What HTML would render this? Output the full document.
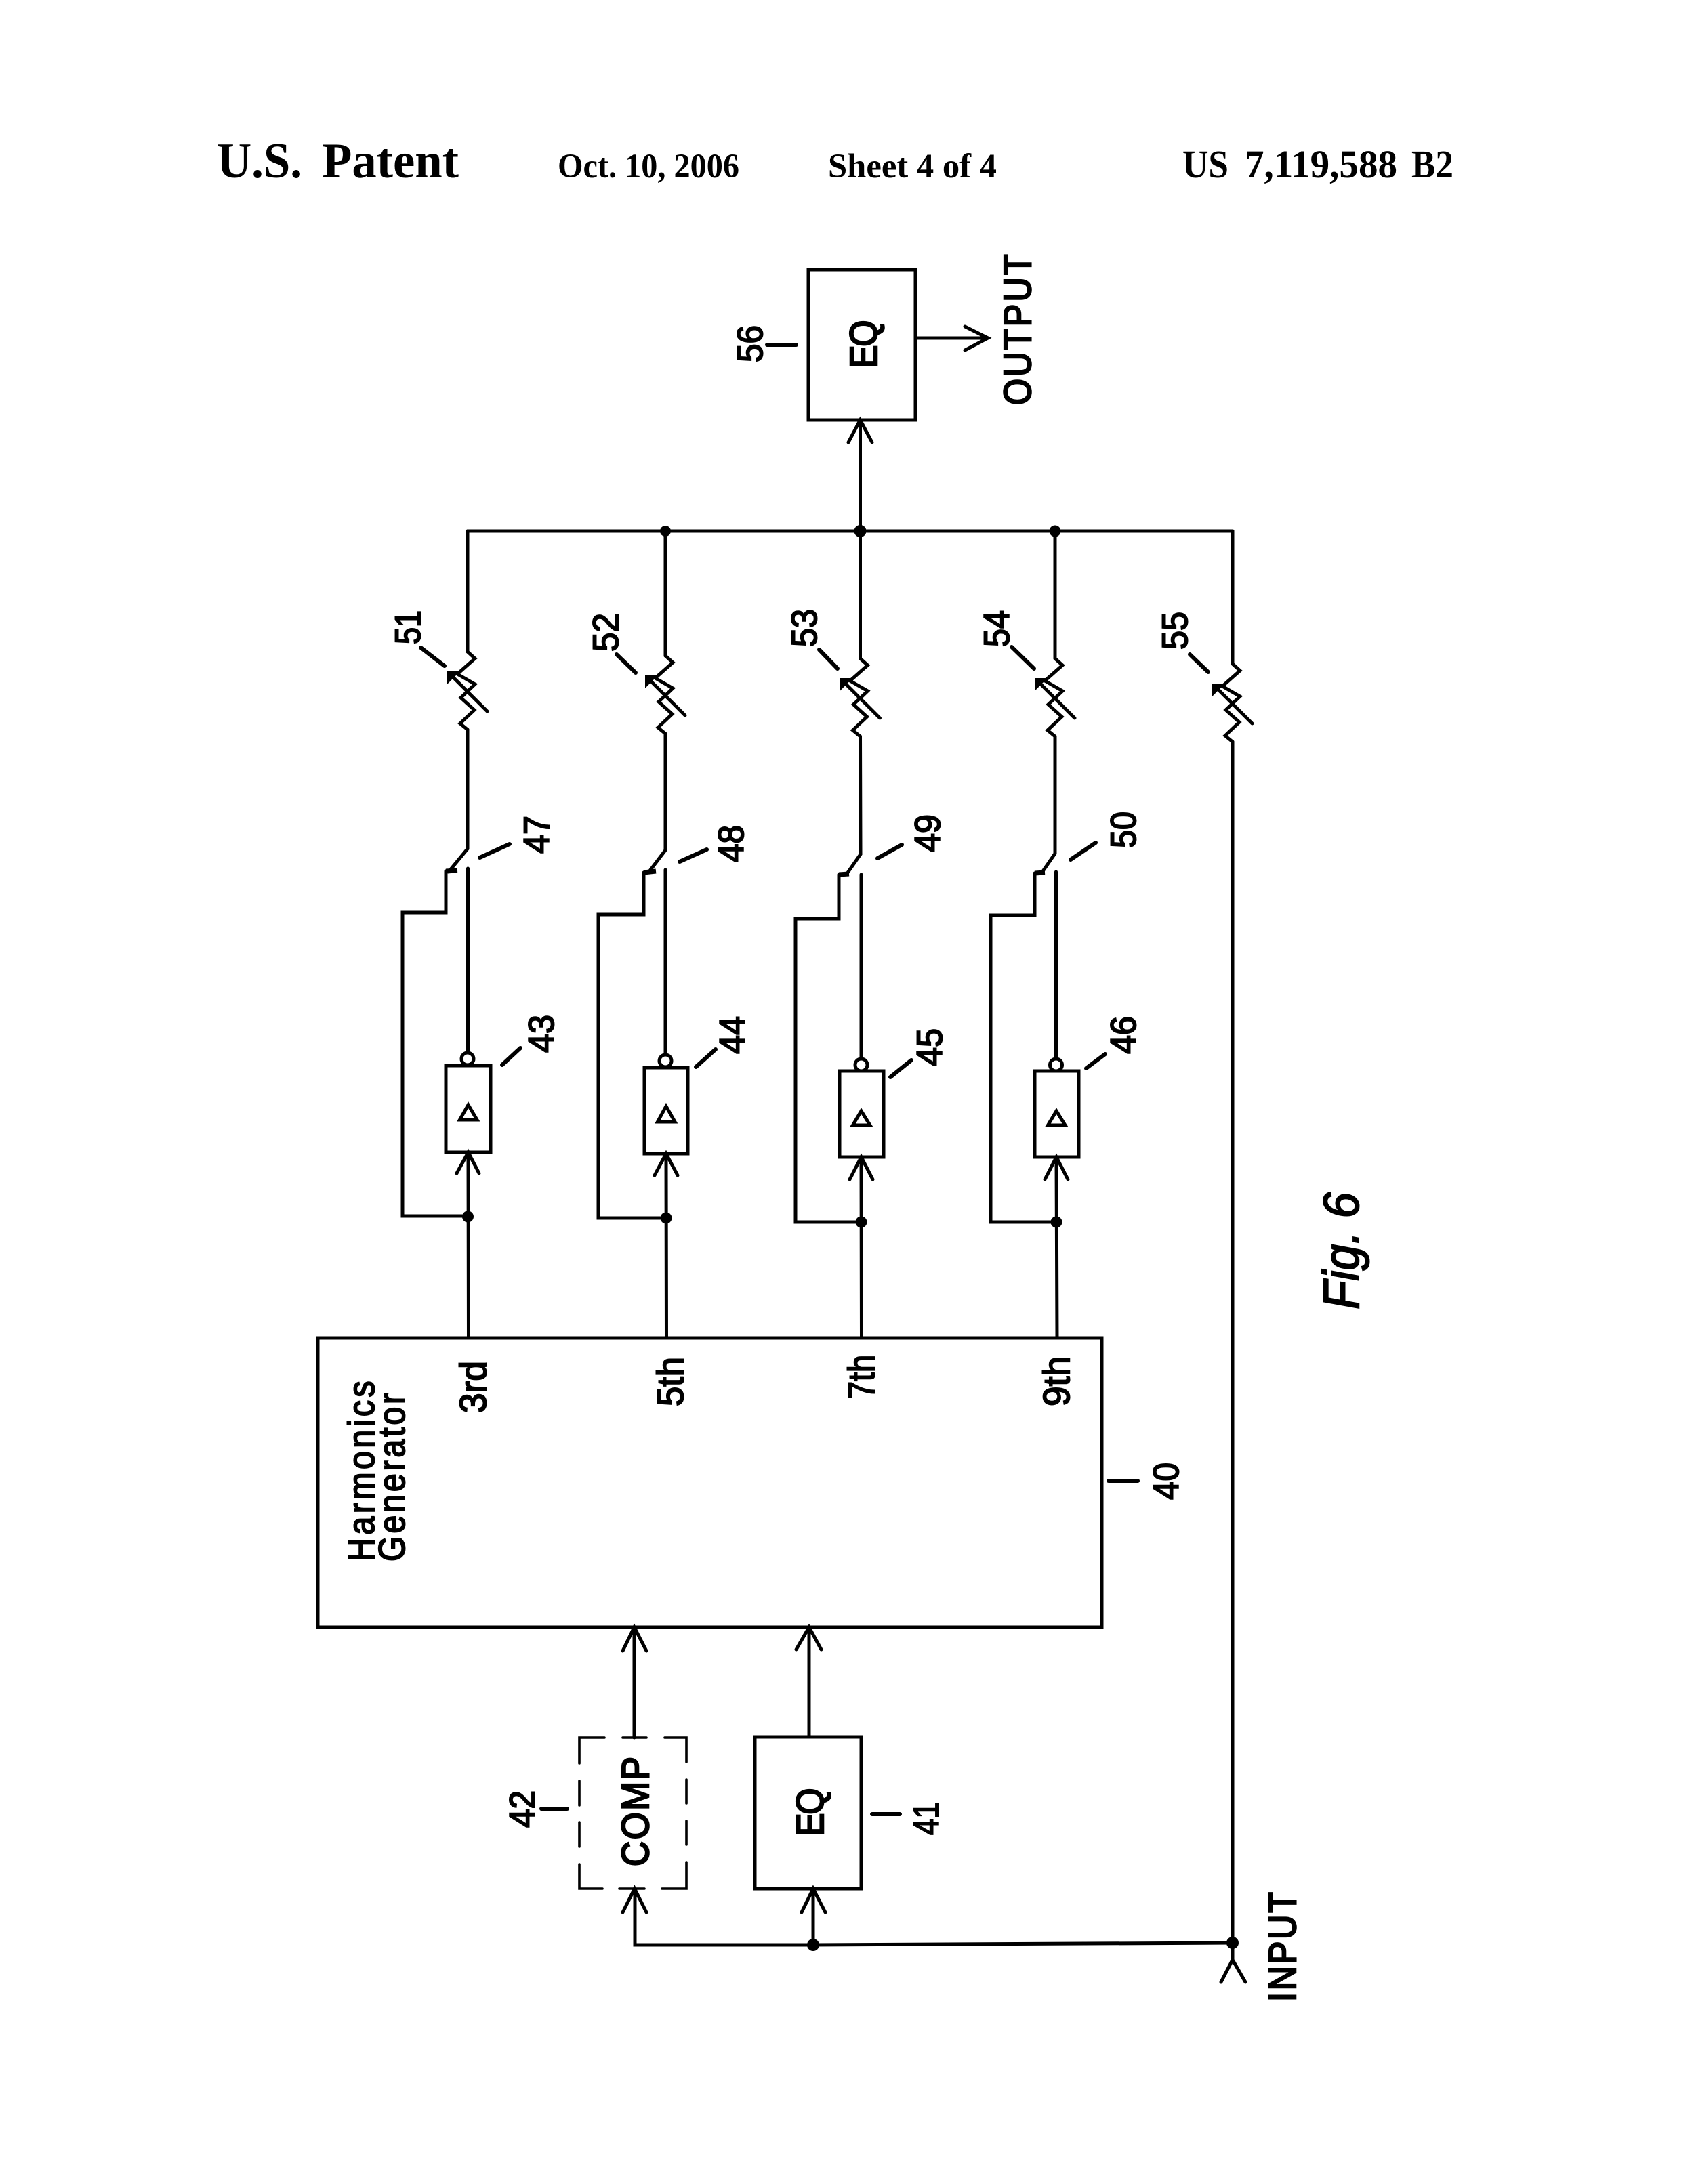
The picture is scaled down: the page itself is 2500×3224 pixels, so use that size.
<!DOCTYPE html>
<html><head><meta charset="utf-8"><style>
html,body{margin:0;padding:0;background:#fff}
svg{display:block}
.l{fill:none;stroke:#000;stroke-width:5;stroke-linejoin:miter;stroke-linecap:round}
.t{stroke:#000;stroke-width:6;fill:none;stroke-linecap:round}
.s{font-family:"Liberation Sans",sans-serif;fill:#000;stroke:#000;stroke-width:2}
.h{font-family:"Liberation Serif",serif;font-weight:bold;fill:#000}
</style></head><body>
<svg xmlns="http://www.w3.org/2000/svg" width="2500" height="3224" viewBox="0 0 2500 3224">
<rect width="2500" height="3224" fill="#fff"/>
<defs>
<g id="r"><polyline class="l" points="0,0 11,10 -15,33 11,48 -10,68 10,86 -11,106 0,115"/><line class="l" x1="29" y1="88" x2="-20" y2="39"/><polygon points="-30,29 -11,29 -30,48" fill="#000"/></g>
</defs>

<!-- header -->
<text class="h" x="320" y="262" font-size="74" textLength="126" lengthAdjust="spacingAndGlyphs">U.S.</text>
<text class="h" x="475" y="262" font-size="74" textLength="202" lengthAdjust="spacingAndGlyphs">Patent</text>
<text class="h" x="823" y="262" font-size="51" textLength="268" lengthAdjust="spacingAndGlyphs">Oct. 10, 2006</text>
<text class="h" x="1222" y="262" font-size="51" textLength="249" lengthAdjust="spacingAndGlyphs">Sheet 4 of 4</text>
<text class="h" x="1745" y="262" font-size="58" textLength="68" lengthAdjust="spacingAndGlyphs">US</text>
<text class="h" x="1837" y="262" font-size="58" textLength="225" lengthAdjust="spacingAndGlyphs">7,119,588</text>
<text class="h" x="2083" y="262" font-size="58" textLength="62" lengthAdjust="spacingAndGlyphs">B2</text>

<!-- output EQ -->
<rect class="l" x="1193" y="398" width="158" height="222"/>
<line class="l" x1="1269.5" y1="784" x2="1269.5" y2="622"/>
<polyline class="l" points="1252,653 1269.5,620 1287,653"/>
<line class="l" x1="1351" y1="499" x2="1456" y2="499"/>
<polyline class="l" points="1424,482 1458,499 1424,517"/>
<line class="t" x1="1132" y1="509" x2="1175" y2="509"/>

<!-- bus -->
<line class="l" x1="690" y1="784" x2="1819" y2="784"/>
<circle cx="982" cy="784" r="8" fill="#000"/>
<circle cx="1269.5" cy="784" r="9" fill="#000"/>
<circle cx="1557" cy="784" r="8.5" fill="#000"/>

<!-- branch lines top -->
<line class="l" x1="690" y1="784" x2="690" y2="962"/>
<line class="l" x1="982" y1="784" x2="982" y2="968"/>
<line class="l" x1="1269.5" y1="784" x2="1269.5" y2="972"/>
<line class="l" x1="1557" y1="784" x2="1557" y2="972"/>
<line class="l" x1="1819" y1="784" x2="1819" y2="980"/>

<use href="#r" x="690" y="962"/>
<use href="#r" x="982" y="968"/>
<use href="#r" x="1269.5" y="972"/>
<use href="#r" x="1557" y="972"/>
<use href="#r" x="1819" y="980"/>

<!-- switches & lines -->
<polyline class="l" points="690,1077 690,1253 662,1287"/>
<polyline class="l" points="982,1083 982,1255 957,1288"/>
<polyline class="l" points="1269.5,1087 1270,1261 1249,1291"/>
<polyline class="l" points="1557,1087 1557,1260 1537,1289"/>
<line class="l" x1="1819" y1="1095" x2="1819" y2="2893"/>

<line x1="658" y1="1286" x2="675" y2="1285" stroke="#000" stroke-width="7"/>
<line x1="950" y1="1288" x2="968" y2="1286" stroke="#000" stroke-width="7"/>
<line x1="1238" y1="1291" x2="1253" y2="1290" stroke="#000" stroke-width="7"/>
<line x1="1527" y1="1289" x2="1542" y2="1288" stroke="#000" stroke-width="7"/>

<!-- lower contact to NOT circle -->
<line class="l" x1="690.5" y1="1282" x2="690.5" y2="1553"/>
<line class="l" x1="982" y1="1284" x2="982" y2="1556"/>
<line class="l" x1="1271" y1="1291" x2="1271" y2="1562"/>
<line class="l" x1="1558.5" y1="1287" x2="1558.5" y2="1562"/>

<!-- feedback -->
<polyline class="l" points="658,1286 658,1347 594,1347 594,1795 690,1795"/>
<polyline class="l" points="950,1288 950,1350 883,1350 883,1798 983,1798"/>
<polyline class="l" points="1238,1291 1238,1356 1174,1356 1174,1804 1271,1804"/>
<polyline class="l" points="1527,1289 1527,1351 1462,1351 1462,1804 1559,1804"/>

<!-- buffers -->
<rect class="l" x="658" y="1573" width="66" height="128"/>
<rect class="l" x="951" y="1576" width="64" height="127"/>
<rect class="l" x="1239" y="1581" width="65" height="127"/>
<rect class="l" x="1527" y="1581" width="65" height="127"/>
<circle class="l" cx="690" cy="1563" r="9"/>
<circle class="l" cx="982" cy="1566" r="9"/>
<circle class="l" cx="1271" cy="1572" r="9"/>
<circle class="l" cx="1558.5" cy="1572" r="9"/>
<polygon class="l" points="691,1631 678.5,1653 704,1653"/>
<polygon class="l" points="983,1633 970.5,1656 996,1656"/>
<polygon class="l" points="1271,1640 1258.5,1661 1284,1661"/>
<polygon class="l" points="1559,1640 1546.5,1661 1572,1661"/>

<!-- buffer arrows -->
<polyline class="l" points="674,1732 691,1701 707,1732"/>
<polyline class="l" points="966,1735 983,1703 1000,1735"/>
<polyline class="l" points="1254,1741 1271,1708 1288,1741"/>
<polyline class="l" points="1542,1741 1559,1708 1576,1741"/>
<line class="l" x1="691" y1="1701" x2="691.5" y2="1975"/>
<line class="l" x1="983" y1="1703" x2="983.5" y2="1975"/>
<line class="l" x1="1271" y1="1708" x2="1271.5" y2="1975"/>
<line class="l" x1="1559" y1="1708" x2="1560" y2="1975"/>
<circle cx="690.5" cy="1796" r="8.5" fill="#000"/>
<circle cx="983" cy="1798" r="8.5" fill="#000"/>
<circle cx="1271" cy="1804" r="8.5" fill="#000"/>
<circle cx="1559" cy="1804" r="8.5" fill="#000"/>

<!-- generator -->
<rect class="l" x="469" y="1975" width="1157" height="427"/>

<!-- EQ 41 / COMP 42 -->
<line class="l" x1="936" y1="2402" x2="936" y2="2565"/>
<polyline class="l" points="919,2437 936,2402 954,2437"/>
<line class="l" x1="1194" y1="2402" x2="1194" y2="2564"/>
<polyline class="l" points="1175,2435 1194,2402 1212,2435"/>
<rect class="l" x="1114" y="2564" width="157" height="224"/>
<g stroke="#000" stroke-width="3.6" fill="none" stroke-linecap="round">
<polyline points="892,2565 855,2565 855,2603"/>
<line x1="919" y1="2565" x2="954" y2="2565"/>
<polyline points="981,2565 1013,2565 1013,2601"/>
<line x1="855" y1="2629" x2="855" y2="2665"/>
<line x1="855" y1="2690" x2="855" y2="2726"/>
<polyline points="855,2752 855,2788 889,2788"/>
<line x1="914" y1="2788" x2="951" y2="2788"/>
<polyline points="977,2788 1013,2788 1013,2749"/>
<line x1="1013" y1="2627" x2="1013" y2="2662"/>
<line x1="1013" y1="2688" x2="1013" y2="2723"/>
</g>
<polyline class="l" points="919,2823 936.5,2788 954,2823"/>
<polyline class="l" points="1183,2823 1200,2788 1218,2823"/>
<polyline class="l" points="937,2788 937,2871 1200,2871 1819,2868"/>
<line class="l" x1="1200" y1="2788" x2="1200" y2="2871"/>
<circle cx="1200" cy="2871" r="9" fill="#000"/>
<circle cx="1819" cy="2868" r="9" fill="#000"/>
<polyline class="l" points="1802,2926 1819,2893 1838,2926"/>

<!-- leader ticks -->
<line class="t" x1="621" y1="956" x2="656" y2="983"/>
<line class="t" x1="910" y1="966" x2="938" y2="993"/>
<line class="t" x1="1209" y1="959" x2="1236" y2="987"/>
<line class="t" x1="1493" y1="955" x2="1526" y2="987"/>
<line class="t" x1="1756" y1="966" x2="1783" y2="992"/>
<line class="t" x1="708" y1="1266" x2="752" y2="1246"/>
<line class="t" x1="1003" y1="1272" x2="1043" y2="1254"/>
<line class="t" x1="1295" y1="1267" x2="1331" y2="1247"/>
<line class="t" x1="1580" y1="1269" x2="1617" y2="1244"/>
<line class="t" x1="741" y1="1572" x2="768" y2="1547"/>
<line class="t" x1="1027" y1="1575" x2="1056" y2="1549"/>
<line class="t" x1="1314" y1="1590" x2="1345" y2="1565"/>
<line class="t" x1="1603" y1="1577" x2="1631" y2="1556"/>
<line class="t" x1="1636" y1="2186" x2="1679" y2="2186"/>
<line class="t" x1="1287" y1="2678" x2="1328" y2="2678"/>
<line class="t" x1="799" y1="2670" x2="837" y2="2670"/>

<!-- labels -->
<g class="s" font-size="53">
<text transform="translate(620,951) rotate(-90)" textLength="50" lengthAdjust="spacingAndGlyphs">51</text>
<text transform="translate(912,962) rotate(-90)" textLength="57" lengthAdjust="spacingAndGlyphs">52</text>
<text transform="translate(1205,955) rotate(-90)" textLength="56" lengthAdjust="spacingAndGlyphs">53</text>
<text transform="translate(1489,955) rotate(-90)" textLength="54" lengthAdjust="spacingAndGlyphs">54</text>
<text transform="translate(1752,959) rotate(-90)" textLength="56" lengthAdjust="spacingAndGlyphs">55</text>
<text transform="translate(810,1260) rotate(-90)" textLength="56" lengthAdjust="spacingAndGlyphs">47</text>
<text transform="translate(1097,1273) rotate(-90)" textLength="55" lengthAdjust="spacingAndGlyphs">48</text>
<text transform="translate(1387,1258) rotate(-90)" textLength="56" lengthAdjust="spacingAndGlyphs">49</text>
<text transform="translate(1676,1252) rotate(-90)" textLength="54" lengthAdjust="spacingAndGlyphs">50</text>
<text transform="translate(817,1554) rotate(-90)" textLength="56" lengthAdjust="spacingAndGlyphs">43</text>
<text transform="translate(1099,1556) rotate(-90)" textLength="56" lengthAdjust="spacingAndGlyphs">44</text>
<text transform="translate(1390,1574) rotate(-90)" textLength="56" lengthAdjust="spacingAndGlyphs">45</text>
<text transform="translate(1676,1556) rotate(-90)" textLength="56" lengthAdjust="spacingAndGlyphs">46</text>
<text transform="translate(1125,535) rotate(-90)" textLength="55" lengthAdjust="spacingAndGlyphs">56</text>
<text transform="translate(1739,2214) rotate(-90)" textLength="55" lengthAdjust="spacingAndGlyphs">40</text>
<text transform="translate(1385,2709) rotate(-90)" textLength="49" lengthAdjust="spacingAndGlyphs">41</text>
<text transform="translate(789,2698) rotate(-90)" textLength="55" lengthAdjust="spacingAndGlyphs">42</text>
</g>
<g class="s" font-size="57" stroke-width="2.6">
<text style="stroke-width:2.6" transform="translate(1521,598) rotate(-90) scale(.88,1)" textLength="253" lengthAdjust="spacing">OUTPUT</text>
<text style="stroke-width:2.6" transform="translate(1912,2955) rotate(-90) scale(.88,1)" textLength="184" lengthAdjust="spacing">INPUT</text>
<text style="stroke-width:2.6" transform="translate(1294,543) rotate(-90) scale(.88,1)" textLength="80" lengthAdjust="spacing">EQ</text>
<text style="stroke-width:2.6" transform="translate(1215,2710) rotate(-90) scale(.88,1)" textLength="80" lengthAdjust="spacing">EQ</text>
<text style="stroke-width:2.6" transform="translate(957,2755) rotate(-90) scale(.9,1)" textLength="180" lengthAdjust="spacing">COMP</text>
</g>
<g class="s" font-size="55">
<text transform="translate(552,2305) rotate(-90) scale(.88,1)" textLength="303" lengthAdjust="spacing">Harmonics</text>
<text transform="translate(597,2305) rotate(-90) scale(.88,1)" textLength="282" lengthAdjust="spacing">Generator</text>
<text transform="translate(717,2086) rotate(-90)" textLength="77" lengthAdjust="spacingAndGlyphs">3rd</text>
<text transform="translate(1008,2076) rotate(-90)" textLength="73" lengthAdjust="spacingAndGlyphs">5th</text>
<text transform="translate(1290,2065) rotate(-90)" textLength="65" lengthAdjust="spacingAndGlyphs">7th</text>
<text transform="translate(1578,2076) rotate(-90)" textLength="74" lengthAdjust="spacingAndGlyphs">9th</text>
</g>
<text class="s" transform="translate(2005,1933) rotate(-90)" font-size="74" font-style="italic" textLength="173" lengthAdjust="spacingAndGlyphs">Fig. 6</text>
</svg>
</body></html>
